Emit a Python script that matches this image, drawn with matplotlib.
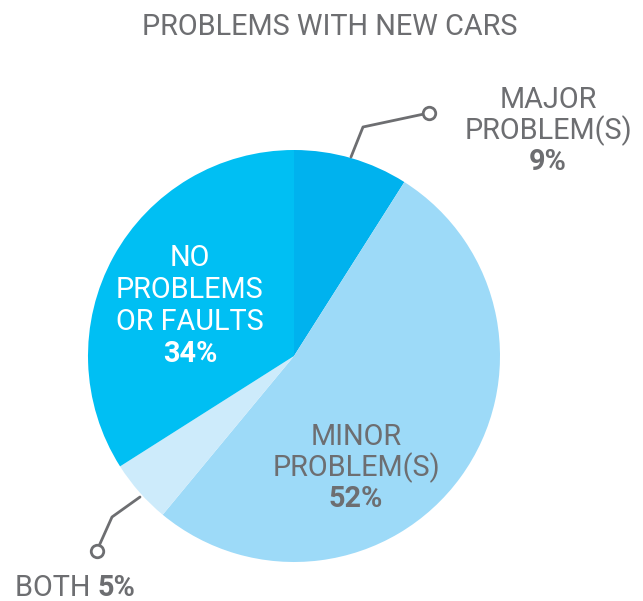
import matplotlib
matplotlib.use("Agg")
import matplotlib.pyplot as plt

plt.rcParams['font.family'] = ['Roboto', 'DejaVu Sans']

categories = ["MAJOR\nPROBLEM(S)", "MINOR\nPROBLEM(S)", "BOTH", "NO\nPROBLEMS\nOR FAULTS"]
values = [9, 52, 5, 34]
colors = ["#00B2EE", "#9DDAF8", "#CDEBFB", "#00BFF3"]
title = "PROBLEMS WITH NEW CARS"

W, H = 643, 601
fig = plt.figure(figsize=(W / 100, H / 100), dpi=100)
ax = fig.add_axes([0, 0, 1, 1])

cx, cy, r = 294, H - 356, 206
ax.pie(values, colors=colors, startangle=90, counterclock=False,
       center=(cx, cy), radius=r, frame=True,
       wedgeprops=dict(linewidth=0))
ax.set_xlim(0, W)
ax.set_ylim(0, H)
ax.set_aspect('equal')
ax.axis('off')

gray = "#6D6E71"
fs = 20.8

def y(p):
    return H - p

ax.text(330, y(27), title, ha='center', va='center', fontsize=fs, color=gray)

def label(x, ys, lines, pct, color):
    for yy, t in zip(ys, lines):
        ax.text(x, y(yy), t, ha='center', va='center', fontsize=fs, color=color)
    ax.text(x, y(ys[-1] + (ys[1] - ys[0])), f"{pct}%",
            ha='center', va='center', fontsize=fs, color=color, fontweight='bold')

label(548, [100, 131], categories[0].split("\n"), values[0], gray)
label(356, [437, 468], categories[1].split("\n"), values[1], gray)
label(190, [258, 290, 322], categories[3].split("\n"), values[3], "white")

# BOTH label
t1 = ax.text(15, y(588), categories[2] + " ", ha='left', va='center', fontsize=fs, color=gray)
fig.canvas.draw()
bb = t1.get_window_extent()
ax.text(bb.x1, y(588), f"{values[2]}%", ha='left', va='center', fontsize=fs,
        color=gray, fontweight='bold')

# leader lines
lc = "#6D6E71"
ax.plot([351, 363, 424], [y(157), y(127), y(114)], color=lc, lw=2, solid_capstyle='round')
ax.plot([429], [y(113)], marker='o', ms=9, mfc='white', mec=lc, mew=2)
ax.plot([140, 112, 99], [y(497), y(517), y(546)], color=lc, lw=2, solid_capstyle='round')
ax.plot([97], [y(551)], marker='o', ms=9, mfc='white', mec=lc, mew=2)

fig.savefig("out.png", dpi=100, facecolor='white')
